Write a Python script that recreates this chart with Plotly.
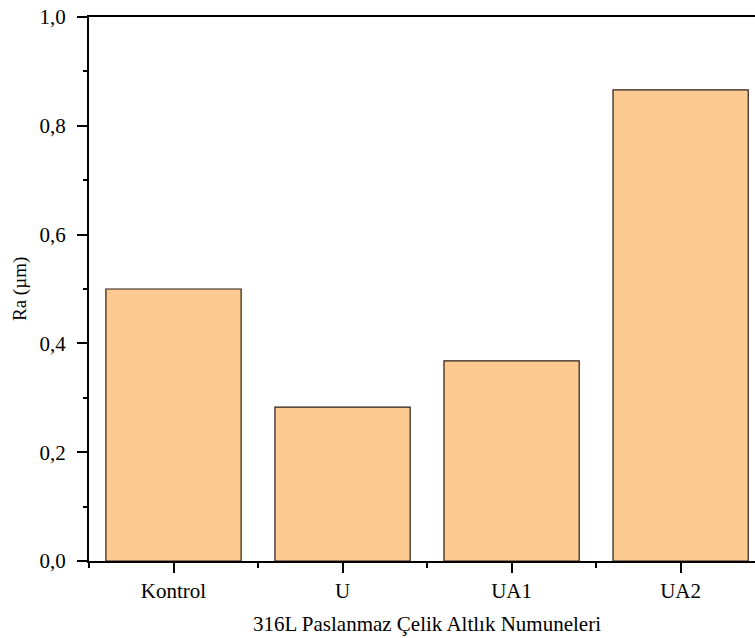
import plotly.graph_objects as go

# Surface roughness of 316L stainless steel substrate samples
categories = ["Kontrol", "U", "UA1", "UA2"]
ra_values = [0.500, 0.283, 0.368, 0.866]

positions = list(range(len(categories)))

fig = go.Figure(
    go.Bar(
        x=positions,
        y=ra_values,
        width=0.8,
        marker=dict(color="#FDCB92", line=dict(color="#2b1d14", width=1.2)),
    )
)

font_family = "'Times New Roman', 'Liberation Serif', 'DejaVu Serif', serif"

fig.update_layout(
    width=755,
    height=638,
    margin=dict(l=89, r=0, t=17, b=77),
    plot_bgcolor="white",
    paper_bgcolor="white",
    font=dict(family=font_family, size=20, color="black"),
    showlegend=False,
)

fig.update_xaxes(
    range=[-0.5, 3.44],
    tickmode="array",
    tickvals=positions,
    ticktext=categories,
    ticks="outside",
    ticklen=10,
    tickwidth=2,
    tickcolor="black",
    showline=True,
    linecolor="black",
    linewidth=2,
    mirror=True,
    showgrid=False,
    zeroline=False,
    minor=dict(ticks="outside", ticklen=5, tickwidth=2, tickcolor="black",
               tickmode="linear", tick0=0.5, dtick=1, showgrid=False),
    tickfont=dict(family=font_family, size=21),
)

fig.update_yaxes(
    range=[0, 1.0],
    tickmode="array",
    tickvals=[0, 0.2, 0.4, 0.6, 0.8, 1.0],
    ticktext=["0,0", "0,2", "0,4", "0,6", "0,8", "1,0"],
    ticks="outside",
    ticklen=10,
    tickwidth=2,
    tickcolor="black",
    showline=True,
    linecolor="black",
    linewidth=2,
    showgrid=False,
    zeroline=False,
    minor=dict(ticks="outside", ticklen=4, tickwidth=2, tickcolor="black",
               tickmode="linear", tick0=0, dtick=0.1, showgrid=False),
    tickfont=dict(family=font_family, size=21),
    ticklabelstandoff=7,
)

# Axis titles
fig.add_annotation(
    text="316L Paslanmaz Çelik Altlık Numuneleri",
    xref="x", x=1.5, yref="paper", y=0,
    xanchor="center", yanchor="middle", yshift=-63,
    showarrow=False, font=dict(family=font_family, size=21),
)
fig.add_annotation(
    text="Ra (µm)",
    xref="paper", x=0, yref="paper", y=0.5,
    xanchor="center", yanchor="middle", xshift=-69,
    textangle=-90, showarrow=False, font=dict(family=font_family, size=19),
)

fig.write_html("out.html")
